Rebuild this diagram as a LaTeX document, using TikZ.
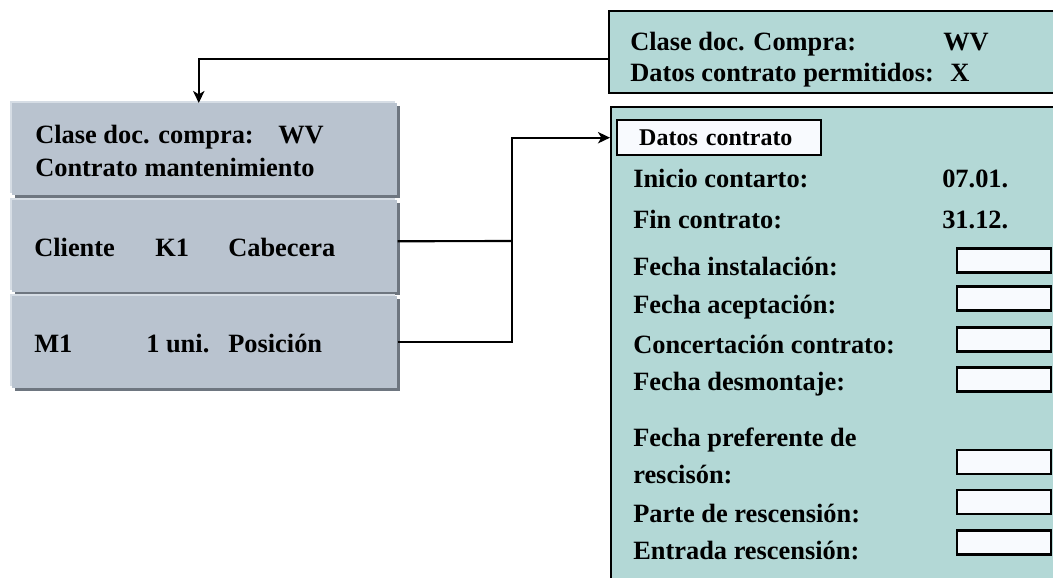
\documentclass[tikz,border=0pt]{standalone}
\usepackage{fontspec}
\setmainfont{Liberation Serif}
\usepackage{tikz}
\usetikzlibrary{arrows.meta,positioning,shadows}
\definecolor{belegblau}{RGB}{185,195,207}
\definecolor{belegschatten}{RGB}{110,118,128}
\definecolor{beleglicht}{RGB}{214,221,229}
\definecolor{vertragtuerkis}{RGB}{179,216,214}
\definecolor{feldweiss}{RGB}{248,250,254}
\tikzset{
  beleg/.style={rectangle, fill=belegblau, minimum width=288.75pt, minimum height=69pt,
                inner sep=0pt,
                general shadow={shadow xshift=-1.5pt, shadow yshift=1.5pt, fill=beleglicht},
                general shadow={shadow xshift=2.25pt, shadow yshift=-2.25pt, fill=belegschatten}},
  vorgabe/.style={rectangle, draw=black, line width=1.8pt, fill=vertragtuerkis,
                  minimum width=354pt, minimum height=61.5pt, inner sep=0pt},
  vertrag/.style={rectangle, draw=black, line width=1.8pt, fill=vertragtuerkis,
                  minimum width=354pt, minimum height=370.5pt, inner sep=0pt},
  reiter/.style={rectangle, draw=black, line width=1.8pt, fill=feldweiss,
                 text width=120pt, align=left, inner xsep=16.5pt, inner ysep=0pt,
                 minimum height=26.25pt, font=\fontsize{18}{22}\selectfont\bfseries},
  feld/.style={rectangle, draw=black, line width=1.8pt, fill=feldweiss,
               minimum width=70.5pt, minimum height=18pt, inner sep=0pt},
  txt/.style={font=\fontsize{19.8}{24}\selectfont\bfseries, inner sep=0pt, anchor=base west},
  linie/.style={line width=1.6pt, black},
  arrow/.style={-{Stealth[length=9pt, width=8.5pt, inset=2.5pt]}, line width=1.6pt, black},
}
\begin{document}
\begin{tikzpicture}[x=0.75pt, y=-0.75pt, node distance=3pt]
  \useasboundingbox (0,0) rectangle (1053,578);
  \clip (0,0) rectangle (1053,578);
  % Beleg (links)
  \node[beleg, anchor=north west] (kopf) at (12,103) {};
  \node[beleg, below=of kopf] (cab) {};
  \node[beleg, below=of cab] (pos) {};
  \node[txt] (kopfart) at (35,143) {Clase doc. compra:};
  \node[txt] (kopfwv) at (278,143) {WV};
  \node[txt] (kopfvtr) at (35,176) {Contrato mantenimiento};
  \node[txt] (cabcli) at (34,256) {Cliente};
  \node[txt] (cabk) at (155,256) {K1};
  \node[txt] (cabtxt) at (228,256) {Cabecera};
  \node[txt] (posm) at (34,352) {M1};
  \node[txt] (posmenge) at (146,352) {1 uni.};
  \node[txt] (postxt) at (228,352) {Posición};
  % Customizing (rechts oben)
  \node[vorgabe, anchor=north west] (vorgabe) at (608,10) {};
  \node[txt] (vgart) at (630,50) {Clase doc. Compra:};
  \node[txt] (vgwv) at (943,50) {WV};
  \node[txt] (vgdat) at (630,81) {Datos contrato permitidos:};
  \node[txt] (vgx) at (950,81) {X};
  % Vertragsdaten (rechts)
  \node[vertrag, anchor=north west] (vertrag) at (610,106) {};
  \node[reiter, anchor=north west] (datos) at (616,119) {Datos contrato};
  \node[txt] (inicio) at (633,187) {Inicio contarto:};
  \node[txt] (iniciowert) at (942,187) {07.01.};
  \node[txt] (fin) at (633,228) {Fin contrato:};
  \node[txt] (finwert) at (942,228) {31.12.};
  \node[txt] (inst) at (633,275) {Fecha instalación:};
  \node[txt] (acep) at (633,313) {Fecha aceptación:};
  \node[txt] (conc) at (633,353) {Concertación contrato:};
  \node[txt] (desm) at (633,390) {Fecha desmontaje:};
  \node[txt] (pref) at (633,446) {Fecha preferente de};
  \node[txt] (prefb) at (633,483) {rescisón:};
  \node[txt] (parte) at (633,522) {Parte de rescensión:};
  \node[txt] (entr) at (633,559) {Entrada rescensión:};
  \node[feld] (finst) at (1004,260.5) {};
  \node[feld] (facep) at (1004,298.5) {};
  \node[feld] (fconc) at (1004,339.5) {};
  \node[feld] (fdesm) at (1004,379.5) {};
  \node[feld] (fpref) at (1004,462) {};
  \node[feld] (fparte) at (1004,502) {};
  \node[feld] (fentr) at (1004,542.5) {};
  % Verbindungen
  \coordinate (knick) at (512,241);
  \draw[arrow] ([yshift=-5.25pt]vorgabe.west) -| ([xshift=-4.5pt]kopf.north);
  \draw[linie] ([yshift=3.4pt]cab.east) -- (knick);
  \draw[arrow] (pos.east) -| (knick |- datos.west) -- (vertrag.west |- datos.west);
\end{tikzpicture}
\end{document}
